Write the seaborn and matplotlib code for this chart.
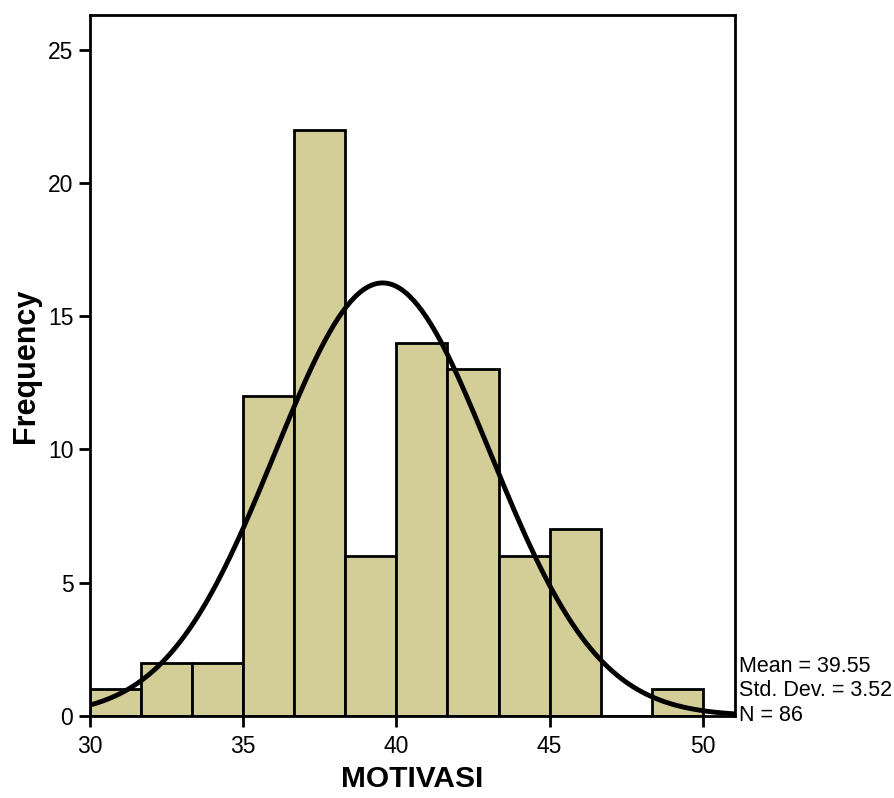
import numpy as np
import pandas as pd
import seaborn as sns
import matplotlib.pyplot as plt

# histogram of MOTIVASI (SPSS style)
bin_edges = [30.0, 31.667, 33.333, 35.0, 36.667, 38.333, 40.0, 41.667,
             43.333, 45.0, 46.667, 48.333, 50.0]
counts = [1, 2, 2, 12, 22, 6, 14, 13, 6, 7, 0, 1]
mean, sd, n = 39.55, 3.52, 86

centers = [(a + b) / 2 for a, b in zip(bin_edges[:-1], bin_edges[1:])]
df = pd.DataFrame({'MOTIVASI': centers, 'count': counts})

sns.set_style('white')
plt.rcParams['font.family'] = ['Liberation Sans', 'DejaVu Sans']
plt.rcParams['text.color'] = 'black'
plt.rcParams['axes.labelcolor'] = 'black'
plt.rcParams['xtick.color'] = 'black'
plt.rcParams['ytick.color'] = 'black'

fig = plt.figure(figsize=(8.94, 7.98), dpi=100)
ax = fig.add_axes([0.1007, 0.1028, 0.7214, 0.8784])

sns.histplot(data=df, x='MOTIVASI', weights='count', bins=bin_edges,
             color='#D3CE98', edgecolor='black', linewidth=2, alpha=1, ax=ax)

# fitted normal curve
width = bin_edges[1] - bin_edges[0]
xs = np.linspace(30, 51.05, 300)
ys = n * width * np.exp(-0.5 * ((xs - mean) / sd) ** 2) / (sd * np.sqrt(2 * np.pi))
sns.lineplot(x=xs, y=ys, color='black', linewidth=3.5, ax=ax)

ax.set_xlim(30, 51.05)
ax.set_ylim(0, 26.3)
ax.set_xticks([30, 35, 40, 45, 50])
ax.set_yticks([0, 5, 10, 15, 20, 25])
ax.tick_params(axis='x', direction='out', length=8, width=2, labelsize=16.5,
               pad=6, bottom=True)
ax.tick_params(axis='y', direction='out', length=8, width=2, labelsize=16.5,
               pad=4, left=True)
for s in ax.spines.values():
    s.set_linewidth(2)
    s.set_color('black')

ax.set_xlabel('MOTIVASI', fontsize=21.5, fontweight='bold', labelpad=5)
ax.set_ylabel('Frequency', fontsize=22, fontweight='bold', labelpad=5)

ax.text(1.006, -0.014, 'Mean = %.2f\nStd. Dev. = %.2f\nN = %d' % (mean, sd, n),
        transform=ax.transAxes, ha='left', va='bottom', fontsize=15.5,
        linespacing=1.22)

fig.savefig('out.png', dpi=100)
